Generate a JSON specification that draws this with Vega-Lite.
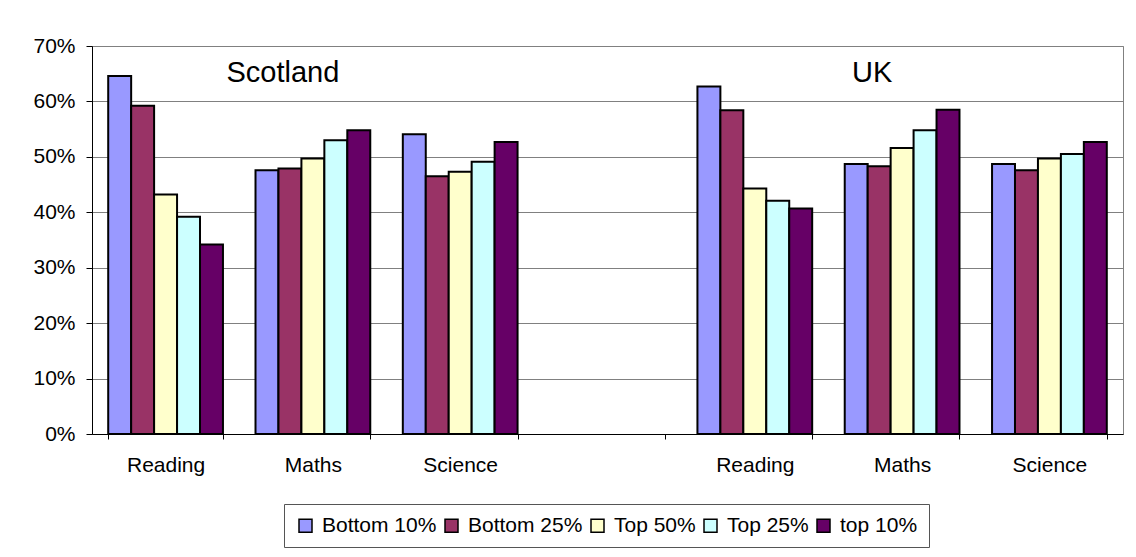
{
  "$schema": "https://vega.github.io/schema/vega-lite/v6.json",
  "width": 1031,
  "height": 388,
  "autosize": {"type": "none"},
  "padding": {"left": 92, "top": 46, "right": 13, "bottom": 123},
  "background": "white",
  "config": {
    "font": "Liberation Sans",
    "view": {"stroke": "#808080", "strokeWidth": 1},
    "axis": {"labelFont": "Liberation Sans", "labelFontSize": 21, "labelColor": "#000000"},
    "legend": {"labelFont": "Liberation Sans", "labelFontSize": 21, "labelColor": "#000000"}
  },
  "datasets": {
    "scores": [
      {"cat": "1 Reading", "group": "Bottom 10%", "value": 0.646},
      {"cat": "1 Reading", "group": "Bottom 25%", "value": 0.592},
      {"cat": "1 Reading", "group": "Top 50%", "value": 0.432},
      {"cat": "1 Reading", "group": "Top 25%", "value": 0.392},
      {"cat": "1 Reading", "group": "top 10%", "value": 0.342},
      {"cat": "2 Maths", "group": "Bottom 10%", "value": 0.476},
      {"cat": "2 Maths", "group": "Bottom 25%", "value": 0.479},
      {"cat": "2 Maths", "group": "Top 50%", "value": 0.497},
      {"cat": "2 Maths", "group": "Top 25%", "value": 0.530},
      {"cat": "2 Maths", "group": "top 10%", "value": 0.548},
      {"cat": "3 Science", "group": "Bottom 10%", "value": 0.541},
      {"cat": "3 Science", "group": "Bottom 25%", "value": 0.465},
      {"cat": "3 Science", "group": "Top 50%", "value": 0.473},
      {"cat": "3 Science", "group": "Top 25%", "value": 0.491},
      {"cat": "3 Science", "group": "top 10%", "value": 0.527},
      {"cat": "5 Reading", "group": "Bottom 10%", "value": 0.627},
      {"cat": "5 Reading", "group": "Bottom 25%", "value": 0.584},
      {"cat": "5 Reading", "group": "Top 50%", "value": 0.443},
      {"cat": "5 Reading", "group": "Top 25%", "value": 0.421},
      {"cat": "5 Reading", "group": "top 10%", "value": 0.407},
      {"cat": "6 Maths", "group": "Bottom 10%", "value": 0.487},
      {"cat": "6 Maths", "group": "Bottom 25%", "value": 0.483},
      {"cat": "6 Maths", "group": "Top 50%", "value": 0.516},
      {"cat": "6 Maths", "group": "Top 25%", "value": 0.548},
      {"cat": "6 Maths", "group": "top 10%", "value": 0.585},
      {"cat": "7 Science", "group": "Bottom 10%", "value": 0.487},
      {"cat": "7 Science", "group": "Bottom 25%", "value": 0.476},
      {"cat": "7 Science", "group": "Top 50%", "value": 0.497},
      {"cat": "7 Science", "group": "Top 25%", "value": 0.505},
      {"cat": "7 Science", "group": "top 10%", "value": 0.527}
    ],
    "titles": [
      {"cat": "2 Maths", "label": "Scotland", "value": 0.652},
      {"cat": "6 Maths", "label": "UK", "value": 0.652}
    ]
  },
  "encoding": {
    "x": {
      "field": "cat",
      "type": "nominal",
      "title": null,
      "scale": {
        "domain": ["1 Reading", "2 Maths", "3 Science", "4 ", "5 Reading", "6 Maths", "7 Science"],
        "paddingInner": 0.221,
        "paddingOuter": 0.11
      },
      "axis": {
        "labelAngle": 0,
        "labelExpr": "datum.value ? substring(datum.value, 2) : ''",
        "tickBand": "extent",
        "tickSize": 5,
        "tickColor": "#000000",
        "domainColor": "#000000",
        "labelPadding": 15,
        "grid": false
      }
    }
  },
  "layer": [
    {
      "data": {"name": "scores"},
      "mark": {"type": "bar", "stroke": "#000000", "strokeWidth": 2},
      "encoding": {
        "xOffset": {
          "field": "group",
          "type": "nominal",
          "scale": {"domain": ["Bottom 10%", "Bottom 25%", "Top 50%", "Top 25%", "top 10%"], "paddingInner": 0, "paddingOuter": 0}
        },
        "y": {
          "field": "value",
          "type": "quantitative",
          "title": null,
          "scale": {"domain": [0, 0.7], "nice": false},
          "axis": {
            "format": ".0%",
            "values": [0, 0.1, 0.2, 0.3, 0.4, 0.5, 0.6, 0.7],
            "grid": true,
            "gridColor": "#808080",
            "gridWidth": 1,
            "tickSize": 6,
            "tickColor": "#000000",
            "domainColor": "#000000",
            "labelPadding": 11
          }
        },
        "color": {
          "field": "group",
          "type": "nominal",
          "scale": {
            "domain": ["Bottom 10%", "Bottom 25%", "Top 50%", "Top 25%", "top 10%"],
            "range": ["#9999FF", "#993366", "#FFFFCC", "#CCFFFF", "#660066"]
          },
          "legend": {
            "title": null,
            "orient": "none",
            "legendX": 192,
            "legendY": 458,
            "direction": "horizontal",
            "columns": 5,
            "symbolType": "square",
            "symbolSize": 169,
            "symbolStrokeColor": "#000000",
            "symbolStrokeWidth": 1.5,
            "labelOffset": 6,
            "columnPadding": 4,
            "padding": 11,
            "strokeColor": "#555555",
            "fillColor": "#ffffff",
            "labelLimit": 300
          }
        }
      }
    },
    {
      "data": {"name": "titles"},
      "mark": {"type": "text", "fontSize": 29, "font": "Liberation Sans", "color": "#000000", "baseline": "middle", "align": "center", "dx": -30},
      "encoding": {
        "y": {"field": "value", "type": "quantitative"},
        "text": {"field": "label"}
      }
    }
  ]
}
